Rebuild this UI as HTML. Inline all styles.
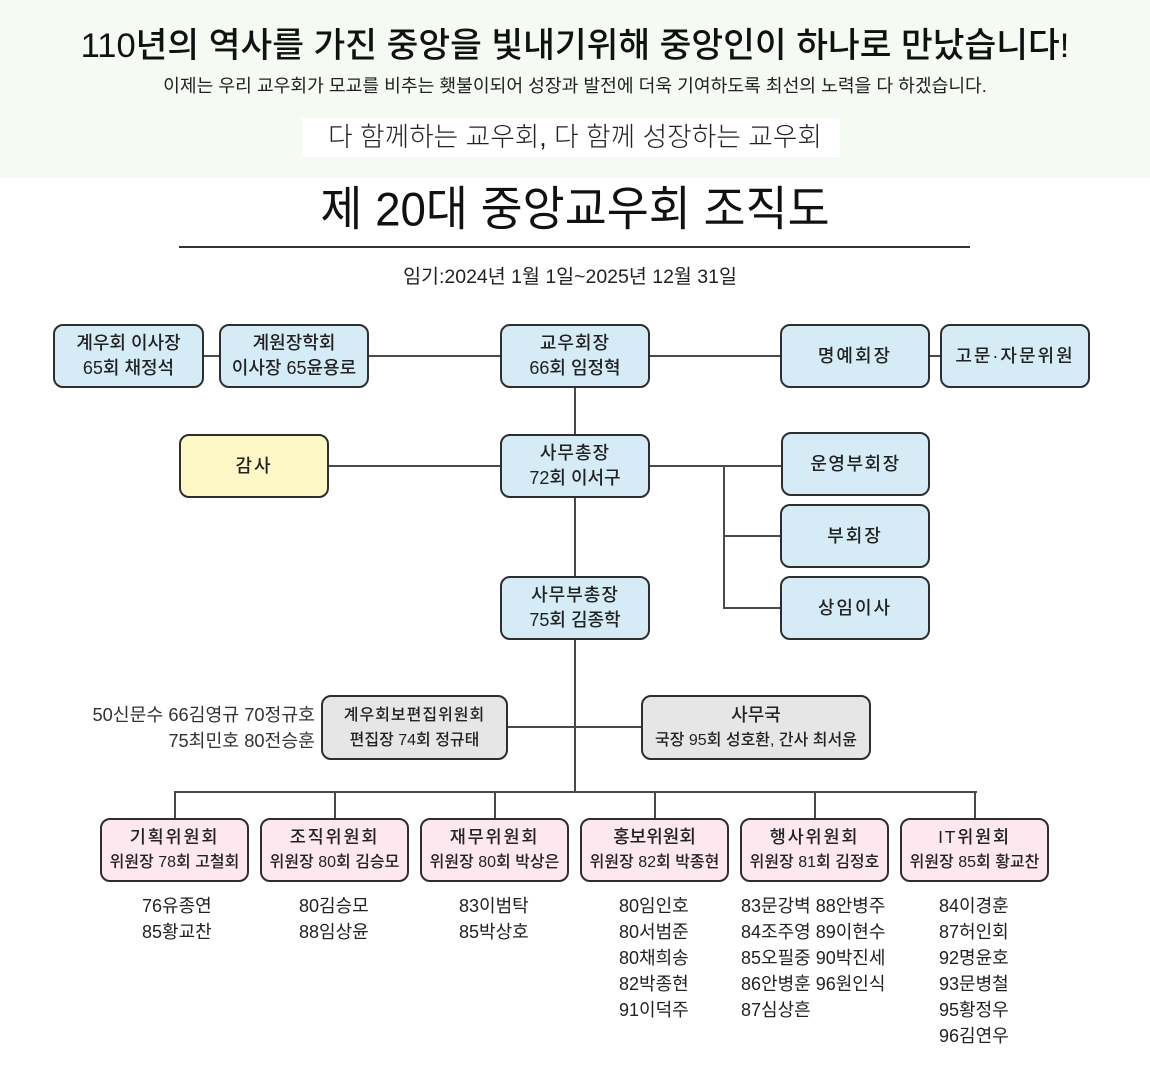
<!DOCTYPE html>
<html lang="ko">
<head>
<meta charset="utf-8">
<style>
  html,body{margin:0;padding:0;}
  body{width:1150px;height:1072px;position:relative;background:#fff;overflow:hidden;
    font-family:"Liberation Sans","Noto Sans CJK KR",sans-serif;color:#222;}
  .abs{position:absolute;}
  .hdr{left:0;top:0;width:1150px;height:178px;background:#f5faf2;}
  .c{position:absolute;left:0;width:1150px;text-align:center;white-space:nowrap;}
  .box{position:absolute;box-sizing:border-box;border:2px solid #2e2e2e;border-radius:10px;
    display:flex;flex-direction:column;align-items:center;justify-content:center;
    font-weight:500;font-size:18px;line-height:25px;white-space:nowrap;color:#222;}
  .blue{background:#d5ecf7;}
  .yel{background:#fdf8c5;}
  .gray{background:#e6e6e6;}
  .pink{background:#fce8ee;}
  .h{position:absolute;height:2px;background:#4a4a4a;}
  .v{position:absolute;width:2px;background:#4a4a4a;}
  .list{position:absolute;top:893px;font-size:18px;line-height:26px;white-space:nowrap;color:#222;}
  .sm{font-size:16px;}
  .ls1{letter-spacing:1px;}
  .ls2{letter-spacing:2px;}
  .t1{font-size:17.5px;letter-spacing:1.8px;}
</style>
</head>
<body>
<div class="abs hdr"></div>
<div class="c" style="top:25px;font-size:34.5px;line-height:42px;font-weight:500;color:#111;">110년의 역사를 가진 중앙을 빛내기위해 중앙인이 하나로 만났습니다!</div>
<div class="c" style="top:75px;font-size:18.2px;line-height:22px;color:#222;">이제는 우리 교우회가 모교를 비추는 횃불이되어 성장과 발전에 더욱 기여하도록 최선의 노력을 다 하겠습니다.</div>
<div class="abs" style="left:302px;top:118px;width:538px;height:39px;background:#fff;"></div>
<div class="c" style="top:120px;font-size:26.7px;line-height:34px;font-weight:300;color:#222;">다 함께하는 교우회, 다 함께 성장하는 교우회</div>

<div class="c" style="top:182px;font-size:45.7px;line-height:56px;font-weight:400;color:#111;transform:scaleY(1.04);">제 20대 중앙교우회 조직도</div>
<div class="abs" style="left:179px;top:246px;width:791px;height:1.5px;background:#333;"></div>
<div class="c" style="top:264px;left:-5px;font-size:19.5px;line-height:26px;color:#222;">임기:2024년 1월 1일~2025년 12월 31일</div>

<!-- connectors -->
<div class="h" style="left:204px;top:355px;width:15px;"></div>
<div class="h" style="left:369px;top:355px;width:131px;"></div>
<div class="h" style="left:650px;top:355px;width:130px;"></div>
<div class="h" style="left:930px;top:355px;width:10px;"></div>
<div class="v" style="left:574px;top:388px;height:46px;"></div>
<div class="h" style="left:329px;top:465px;width:171px;"></div>
<div class="h" style="left:650px;top:465px;width:131px;"></div>
<div class="v" style="left:723px;top:465px;height:144px;"></div>
<div class="h" style="left:723px;top:535px;width:57px;"></div>
<div class="h" style="left:723px;top:607px;width:57px;"></div>
<div class="v" style="left:574px;top:498px;height:78px;"></div>
<div class="v" style="left:574px;top:640px;height:153px;"></div>
<div class="h" style="left:508px;top:726px;width:133px;"></div>
<div class="h" style="left:174px;top:791px;width:803px;"></div>
<div class="v" style="left:174px;top:791px;height:27px;"></div>
<div class="v" style="left:334px;top:791px;height:27px;"></div>
<div class="v" style="left:494px;top:791px;height:27px;"></div>
<div class="v" style="left:654px;top:791px;height:27px;"></div>
<div class="v" style="left:814px;top:791px;height:27px;"></div>
<div class="v" style="left:974px;top:791px;height:27px;"></div>

<!-- top row -->
<div class="box blue" style="left:53px;top:324px;width:151px;height:64px;"><div>계우회 이사장</div><div>65회 채정석</div></div>
<div class="box blue" style="left:219px;top:324px;width:150px;height:64px;"><div>계원장학회</div><div>이사장 65윤용로</div></div>
<div class="box blue" style="left:500px;top:324px;width:150px;height:64px;"><div class="ls1">교우회장</div><div>66회 임정혁</div></div>
<div class="box blue" style="left:780px;top:324px;width:150px;height:64px;letter-spacing:2px;"><div>명예회장</div></div>
<div class="box blue" style="left:940px;top:324px;width:150px;height:64px;letter-spacing:2px;"><div>고문·자문위원</div></div>

<!-- row 2 -->
<div class="box yel ls2" style="left:179px;top:434px;width:150px;height:64px;"><div>감사</div></div>
<div class="box blue" style="left:500px;top:434px;width:150px;height:64px;"><div class="ls1">사무총장</div><div>72회 이서구</div></div>
<div class="box blue" style="left:781px;top:432px;width:149px;height:64px;letter-spacing:1.5px;"><div>운영부회장</div></div>
<div class="box blue ls2" style="left:780px;top:504px;width:150px;height:64px;"><div>부회장</div></div>
<div class="box blue ls2" style="left:780px;top:576px;width:150px;height:64px;"><div>상임이사</div></div>
<div class="box blue" style="left:500px;top:576px;width:150px;height:64px;"><div class="ls1">사무부총장</div><div>75회 김종학</div></div>

<!-- row 3 -->
<div class="abs" style="left:0;width:315px;top:702px;text-align:right;font-size:18.3px;line-height:26px;white-space:nowrap;color:#333;">50신문수 66김영규 70정규호<br>75최민호 80전승훈</div>
<div class="box gray sm" style="left:321px;top:695px;width:187px;height:65px;"><div style="letter-spacing:1px;">계우회보편집위원회</div><div>편집장 74회 정규태</div></div>
<div class="box gray sm" style="left:641px;top:695px;width:230px;height:65px;"><div style="font-size:18px;">사무국</div><div>국장 95회 성호환, 간사 최서윤</div></div>

<!-- committees -->
<div class="box pink sm" style="left:100px;top:818px;width:149px;height:64px;"><div class="t1">기획위원회</div><div>위원장 78회 고철회</div></div>
<div class="box pink sm" style="left:260px;top:818px;width:149px;height:64px;"><div class="t1">조직위원회</div><div>위원장 80회 김승모</div></div>
<div class="box pink sm" style="left:420px;top:818px;width:149px;height:64px;"><div class="t1">재무위원회</div><div>위원장 80회 박상은</div></div>
<div class="box pink sm" style="left:580px;top:818px;width:149px;height:64px;"><div style="font-size:18px;">홍보위원회</div><div>위원장 82회 박종현</div></div>
<div class="box pink sm" style="left:740px;top:818px;width:149px;height:64px;"><div class="t1">행사위원회</div><div>위원장 81회 김정호</div></div>
<div class="box pink sm" style="left:900px;top:818px;width:149px;height:64px;"><div class="t1">IT위원회</div><div>위원장 85회 황교찬</div></div>

<!-- member lists -->
<div class="list" style="left:142px;">76유종연<br>85황교찬</div>
<div class="list" style="left:299px;">80김승모<br>88임상윤</div>
<div class="list" style="left:459px;">83이범탁<br>85박상호</div>
<div class="list" style="left:619px;">80임인호<br>80서범준<br>80채희송<br>82박종현<br>91이덕주</div>
<div class="list" style="left:741px;">83문강벽 88안병주<br>84조주영 89이현수<br>85오필중 90박진세<br>86안병훈 96원인식<br>87심상흔</div>
<div class="list" style="left:939px;">84이경훈<br>87허인회<br>92명윤호<br>93문병철<br>95황정우<br>96김연우</div>
</body>
</html>
